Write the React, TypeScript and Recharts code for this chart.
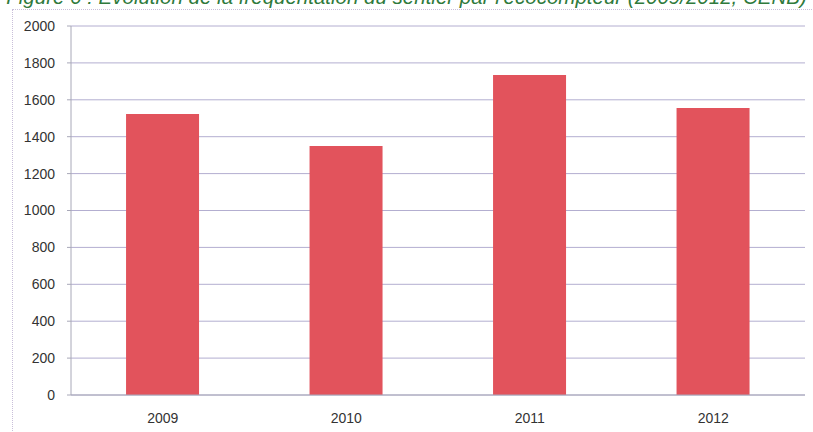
import { BarChart, Bar, XAxis, YAxis, CartesianGrid } from 'recharts';

const years = ['2009', '2010', '2011', '2012'];
const passages = [1523, 1350, 1734, 1556];
const yTicks = [0, 200, 400, 600, 800, 1000, 1200, 1400, 1600, 1800, 2000];

const title =
  "Figure 6 : Évolution de la fréquentation du sentier par l'écocompteur (2009/2012, CENB)";

const data = years.map((year, i) => ({ year, value: passages[i] }));

const tickStyle = { fill: '#333', fontSize: 14, fontFamily: 'Liberation Sans, Arial, sans-serif' };

export default function App() {
  return (
    <div
      style={{
        position: 'absolute',
        left: 0,
        top: 0,
        width: 813,
        height: 432,
        overflow: 'hidden',
        background: '#fff',
      }}
    >
      <div
        style={{
          position: 'absolute',
          top: -15,
          left: 0,
          width: 813,
          textAlign: 'center',
          fontFamily: 'Liberation Sans, Arial, sans-serif',
          fontStyle: 'italic',
          fontSize: 20.5,
          color: '#2f7a3c',
          whiteSpace: 'nowrap',
        }}
      >
        {title}
      </div>
      <div
        style={{
          position: 'absolute',
          left: 12,
          top: 9,
          width: 830,
          height: 440,
          border: '1px dotted #c9bfd9',
        }}
      />
      <div style={{ position: 'absolute', left: 0, top: 0 }}>
        <BarChart
          width={813}
          height={432}
          data={data}
          margin={{ top: 26, right: 8, bottom: 7, left: 0 }}
          barCategoryGap="30%"
        >
          <CartesianGrid vertical={false} stroke="#b3aed0" />
          <XAxis
            dataKey="year"
            height={30}
            tick={tickStyle}
            tickLine={false}
            tickMargin={12}
            axisLine={{ stroke: '#a8a8b8' }}
          />
          <YAxis
            width={71}
            domain={[0, 2000]}
            ticks={yTicks}
            interval={0}
            tick={tickStyle}
            tickSize={4}
            tickMargin={12}
            tickLine={{ stroke: '#a8a8b8' }}
            axisLine={{ stroke: '#a8a8b8' }}
          />
          <Bar dataKey="value" fill="#e2535c" isAnimationActive={false} />
        </BarChart>
      </div>
    </div>
  );
}
